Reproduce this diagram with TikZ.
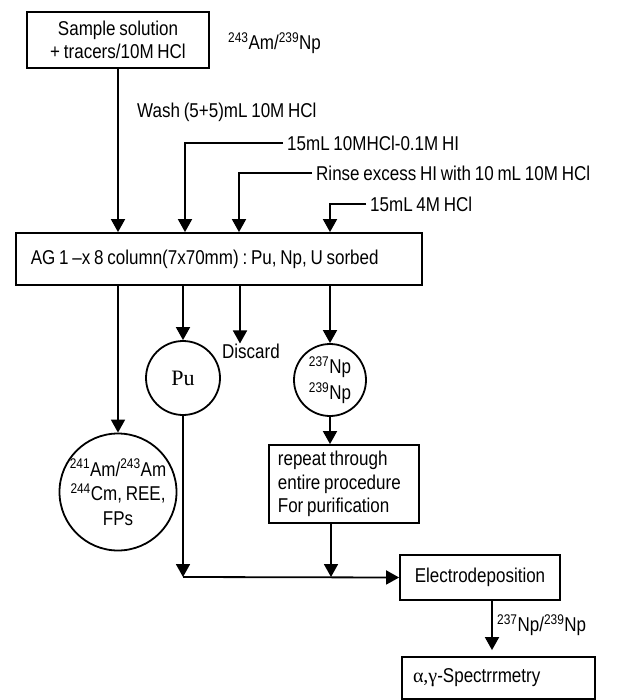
\documentclass[tikz,border=0pt]{standalone}
\usepackage{fontspec}
\setmainfont{Liberation Sans}[FakeStretch=0.85,WordSpace=0.8]
\newfontfamily\serifface{Liberation Serif}
\usetikzlibrary{arrows.meta}
\newcommand\iso[1]{\textsuperscript{#1}}
\newcommand\natsp{\spaceskip=0pt \xspaceskip=0pt \frenchspacing}
\begin{document}
\begin{tikzpicture}[x=1pt,y=-1pt,
  every node/.style={font=\fontsize{20}{23.5}\selectfont},
  box/.style={draw,line width=1.8pt,inner sep=0pt},
  circ/.style={draw,circle,line width=1.8pt,inner sep=0pt,align=center},
  lbl/.style={inner sep=0pt,anchor=west},
  reag/.style={inner xsep=4pt,inner ysep=0pt,anchor=west},
  arr/.style={line width=1.8pt,-{Triangle[width=14pt,length=13pt]}},
  ln/.style={line width=1.8pt}]
\useasboundingbox (0,0) rectangle (616,700);
% nodes
\node[box,minimum width=182pt,minimum height=56pt,align=center] (src) at (118,40) {\natsp Sample solution\\+ tracers/10M HCl};
\node[lbl] (tr) at (228,43) {\iso{243}Am/\iso{239}Np};
\node[lbl] (wash) at (137,112) {Wash (5+5)mL 10M HCl};
\node[reag] (r1) at (283,143) {15mL 10MHCl-0.1M HI};
\node[reag] (r2) at (312,173) {Rinse excess HI with 10 mL 10M HCl};
\node[reag] (r3) at (366,204) {15mL 4M HCl};
\coordinate (c1) at (185,143);
\coordinate (c2) at (239,173);
\coordinate (c3) at (330,204);
\node[box,minimum height=52pt,text width=376pt,inner xsep=15pt,align=left,anchor=west] (col) at (15,259) {\natsp AG 1 –x 8 column(7x70mm) : Pu, Np, U sorbed};
\node[circ,minimum size=113pt,font=\fontsize{20}{24.5}\selectfont] (am) at (118,492) {\natsp \iso{241}Am/\iso{243}Am\\\iso{244}Cm, REE,\\FPs};
\node[circ,minimum size=74pt,font=\fontsize{22}{24}\selectfont] (pu) at (183,378) {\serifface Pu};
\node[circ,minimum size=72pt,font=\fontsize{20}{26}\selectfont] (np) at (330,380) {\iso{237}Np\\\iso{239}Np};
\node[lbl,anchor=center] (disc) at (251,351) {Discard};
\coordinate (xd) at (240,300);
\node[box,minimum height=78pt,text width=132pt,inner xsep=9pt,align=left,anchor=west] (rep) at (268,484) {\natsp repeat through\\entire procedure\\For purification};
\node[box,minimum width=160pt,minimum height=45pt] (elec) at (480,577.5) {Electrodeposition};
\node[box,minimum width=193pt,minimum height=42pt,text width=171pt,inner xsep=11pt,align=left] (spec) at (498.5,678) {{\serifface α,γ}-Spectrrmetry};
\coordinate (xe) at (492,600);
\node[lbl] (nplbl) at (497,625) {\iso{237}Np/\iso{239}Np};
\coordinate (j1) at (183,577);
\coordinate (j2) at (331,577);
% connectors
\draw[arr] (src.south) -- (col.north -| src.south);
\draw[arr] (r1.west) -- (c1) -- (col.north -| c1);
\draw[arr] (r2.west) -- (c2) -- (col.north -| c2);
\draw[arr] (r3.west) -- (c3) -- (col.north -| c3);
\draw[arr] (col.south -| am.north) -- (am.north);
\draw[arr] (col.south -| pu.north) -- (pu.north);
\draw[arr] (col.south -| xd) -- (disc.north -| xd);
\draw[arr] (col.south -| np.north) -- (np.north);
\draw[arr] (np.south) -- (rep.north -| np.south);
\draw[arr] (pu.south) -- (j1);
\draw[arr] (rep.south -| j2) -- (j2);
\draw[arr] (j1) -- (elec.west);
\draw[arr,shorten >=6pt] (elec.south -| xe) -- (spec.north -| xe);
\end{tikzpicture}
\end{document}
